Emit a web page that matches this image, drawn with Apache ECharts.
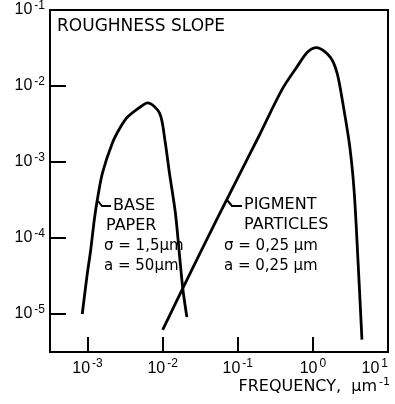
<!DOCTYPE html>
<html>
<head>
<meta charset="utf-8">
<script src="https://cdn.jsdelivr.net/npm/echarts@6/dist/echarts.min.js"></script>
<style>
  html, body { margin: 0; padding: 0; background: #fff; }
  #chart { width: 395px; height: 404px; }
</style>
</head>
<body>
<div id="chart"></div>
<script>
// base paper curve (frequency in µm^-1, roughness slope)
const baseFreq  = [8.5e-4, 9.8e-4, 1.1e-3, 1.23e-3, 1.35e-3, 1.58e-3, 2.14e-3, 2.7e-3, 3.4e-3, 4.9e-3, 6.3e-3, 9.1e-3, 1.07e-2, 1.23e-2, 1.48e-2, 1.7e-2, 1.86e-2, 2.1e-2]
const baseSlope = [1.0e-5, 3.1e-5, 6.9e-5, 1.74e-4, 3.2e-4, 7.2e-4, 1.78e-3, 2.8e-3, 3.9e-3, 5.2e-3, 6.0e-3, 4.4e-3, 1.95e-3, 7.2e-4, 2.1e-4, 5.1e-5, 2.1e-5, 9.1e-6]

// pigment particles curve
const pigmentFreq  = [1.0e-2, 0.0311, 0.1, 0.196, 0.386, 0.612, 0.85, 1.12, 1.7, 2.1, 2.5, 3.1, 3.55, 4.0, 4.5]
const pigmentSlope = [6.2e-6, 6.2e-5, 6.2e-4, 2.3e-3, 8.9e-3, 1.78e-2, 2.8e-2, 3.2e-2, 2.4e-2, 1.48e-2, 6.0e-3, 1.58e-3, 4.0e-4, 4.7e-5, 4.6e-6]

// axis ticks and their exponent labels
const xTicks = [1e-3, 1e-2, 1e-1, 1, 10]
const xTickExp = ['-3', '-2', '-1', '0', '1']
const yTicks = [1e-5, 1e-4, 1e-3, 1e-2, 1e-1]
const yTickExp = ['-5', '-4', '-3', '-2', '-1']
const xRange = [3.162e-4, 10]
const yRange = [3.162e-6, 0.1]

const zip = (a, b) => a.map((v, i) => [v, b[i]])

const expLabel = (ticks, exps) => v => {
  let best = 0
  ticks.forEach((t, i) => {
    if (Math.abs(Math.log10(t) - Math.log10(v)) < Math.abs(Math.log10(ticks[best]) - Math.log10(v))) best = i
  })
  return '10{s|' + exps[best] + '}'
}

const FONT = 'Liberation Sans'
const TXT = 'DejaVu Sans'
const labelRich = {
  s: { fontFamily: FONT, fontSize: 12, color: '#000', verticalAlign: 'top', padding: [0, 0, 9, 2] },
}

const chart = echarts.init(document.getElementById('chart'), null, { renderer: 'canvas' })

const lineStyle = { color: '#000', width: 2.8 }
const txt = (size, text, left, top) => ({
  type: 'text', left, top,
  style: { text, fontSize: size, fontFamily: TXT, fill: '#000' },
})

chart.setOption({
  animation: false,
  backgroundColor: '#fff',
  grid: {
    left: 50, right: 7, top: 10, bottom: 52,
    outerBoundsMode: 'none',
    containLabel: false,
    show: true, borderColor: '#000', borderWidth: 2, backgroundColor: 'transparent',
  },
  xAxis: {
    type: 'log',
    logBase: 10,
    min: xRange[0],
    max: xRange[1],
    axisLine: { show: true, lineStyle: { color: '#000', width: 2 } },
    axisTick: { show: true, inside: true, length: 15, customValues: xTicks, lineStyle: { color: '#000', width: 2 } },
    axisLabel: {
      customValues: xTicks, margin: 6, fontSize: 16, fontFamily: FONT, color: '#000',
      alignMaxLabel: 'right',
      formatter: expLabel(xTicks, xTickExp), rich: labelRich,
    },
    splitLine: { show: false },
    minorTick: { show: false },
  },
  yAxis: {
    type: 'log',
    logBase: 10,
    min: yRange[0],
    max: yRange[1],
    axisLine: { show: true, lineStyle: { color: '#000', width: 2 } },
    axisTick: { show: true, inside: true, length: 16, customValues: yTicks, lineStyle: { color: '#000', width: 2 } },
    axisLabel: {
      customValues: yTicks, margin: 5, fontSize: 16, fontFamily: FONT, color: '#000',
      formatter: expLabel(yTicks, yTickExp), rich: labelRich,
    },
    splitLine: { show: false },
    minorTick: { show: false },
  },
  series: [
    {
      name: 'BASE PAPER',
      type: 'line',
      data: zip(baseFreq, baseSlope),
      smooth: 0.3,
      symbol: 'none',
      lineStyle,
    },
    {
      name: 'PIGMENT PARTICLES',
      type: 'line',
      data: zip(pigmentFreq, pigmentSlope),
      smooth: 0.3,
      symbol: 'none',
      lineStyle,
    },
  ],
  graphic: [
    txt(17, 'ROUGHNESS SLOPE', 57, 18),
    { type: 'polyline', shape: { points: [[98, 201], [102, 206], [111, 206]] }, style: { stroke: '#000', lineWidth: 2, fill: null } },
    txt(16, 'BASE', 113, 198),
    txt(16, 'PAPER', 106, 218),
    txt(15, 'σ = 1,5µm', 104, 239),
    txt(15, 'a = 50µm', 104, 259),
    { type: 'polyline', shape: { points: [[227, 200], [232, 206], [242, 206]] }, style: { stroke: '#000', lineWidth: 2, fill: null } },
    txt(16, 'PIGMENT', 244, 197),
    txt(16, 'PARTICLES', 244, 217),
    txt(15, 'σ = 0,25 µm', 224, 239),
    txt(15, 'a = 0,25 µm', 224, 259),
    {
      type: 'text', right: 5, top: 377,
      style: {
        text: '{b|FREQUENCY,  µm}{s|-1}',
        rich: {
          b: { fontFamily: TXT, fontSize: 16, fill: '#000' },
          s: { fontFamily: TXT, fontSize: 11, fill: '#000', verticalAlign: 'top', padding: [0, 0, 9, 2] },
        },
      },
    },
  ],
})
</script>
</body>
</html>
